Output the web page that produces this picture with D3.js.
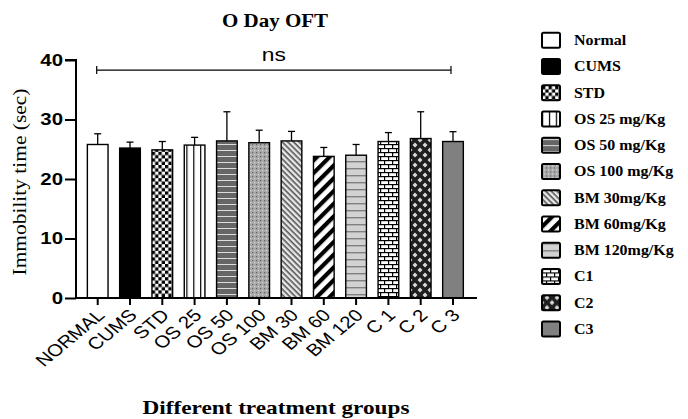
<!DOCTYPE html>
<html>
<head>
<meta charset="utf-8">
<script src="https://cdn.jsdelivr.net/npm/d3@7"></script>
<style>
  body { margin: 0; background: #fff; }
  svg { display: block; }
</style>
</head>
<body>
<svg id="chart" width="688" height="419"></svg>
<script>
// data
const groups = ["NORMAL", "CUMS", "STD", "OS 25", "OS 50", "OS 100", "BM 30", "BM 60", "BM 120", "C 1", "C 2", "C 3"];
const means  = [25.8, 25.2, 24.9, 25.7, 26.4, 26.1, 26.4, 23.8, 24.0, 26.3, 26.8, 26.3];
const errs   = [1.8, 1.0, 1.4, 1.3, 4.9, 2.1, 1.6, 1.5, 1.8, 1.5, 4.5, 1.65];
const legendLabels = ["Normal", "CUMS", "STD", "OS 25 mg/Kg", "OS 50 mg/Kg", "OS 100 mg/Kg",
                      "BM 30mg/Kg", "BM 60mg/Kg", "BM 120mg/Kg", "C1", "C2", "C3"];
const yTicks = [0, 10, 20, 30, 40];
const nsLevel = 38.3;

const svg = d3.select("#chart");
const defs = svg.append("defs");

// ---- fill patterns, one per group ----
function pat(id, w, h, bg) {
  const p = defs.append("pattern").attr("id", id)
    .attr("patternUnits", "userSpaceOnUse").attr("width", w).attr("height", h);
  p.append("rect").attr("width", w).attr("height", h).attr("fill", bg);
  return p;
}
// STD checkerboard
let p = pat("p2", 6.6, 6.6, "#fff");
p.append("rect").attr("width", 3.3).attr("height", 3.3).attr("fill", "#000");
p.append("rect").attr("x", 3.3).attr("y", 3.3).attr("width", 3.3).attr("height", 3.3).attr("fill", "#000");
// OS 25 vertical lines
p = pat("p3", 6.9, 10, "#fff");
p.append("rect").attr("x", 0).attr("width", 1.2).attr("height", 10).attr("fill", "#000");
// OS 50 dark with light horizontal lines
p = pat("p4", 10, 6, "#666");
p.append("rect").attr("y", 0).attr("width", 10).attr("height", 1).attr("fill", "#ddd");
// OS 100 speckled gray
p = pat("p5", 4, 4, "#a8a8a8");
p.append("rect").attr("x", 0).attr("y", 0).attr("width", 1.2).attr("height", 1.2).attr("fill", "#666");
p.append("rect").attr("x", 2).attr("y", 2).attr("width", 1.2).attr("height", 1.2).attr("fill", "#d8d8d8");
// BM 30 fine back-diagonal lines (\)
p = pat("p6", 4, 4, "#e8e8e8").attr("patternTransform", "rotate(45)");
p.append("rect").attr("width", 4).attr("height", 1.6).attr("fill", "#555");
// BM 60 thick diagonal stripes (/)
p = pat("p7", 9, 9, "#fff").attr("patternTransform", "rotate(-45)");
p.append("rect").attr("width", 9).attr("height", 4.2).attr("fill", "#000");
// BM 120 light gray with gray horizontal lines
p = pat("p8", 10, 7, "#d2d2d2");
p.append("rect").attr("width", 10).attr("height", 1.4).attr("fill", "#808080");
// C1 bricks
p = pat("p9", 8, 8, "#fff");
p.append("rect").attr("width", 8).attr("height", 1.2).attr("fill", "#000");
p.append("rect").attr("y", 4).attr("width", 8).attr("height", 1.2).attr("fill", "#000");
p.append("rect").attr("x", 0).attr("y", 0).attr("width", 1.2).attr("height", 4).attr("fill", "#000");
p.append("rect").attr("x", 4).attr("y", 4).attr("width", 1.2).attr("height", 4).attr("fill", "#000");
// C2 dark with light diamonds
p = pat("p10", 10, 10, "#1e1e1e");
p.append("path").attr("d", "M0,-2.5L2.5,0L0,2.5L-2.5,0Z M10,-2.5L12.5,0L10,2.5L7.5,0Z M0,7.5L2.5,10L0,12.5L-2.5,10Z M10,7.5L12.5,10L10,12.5L7.5,10Z M5,2.5L7.5,5L5,7.5L2.5,5Z").attr("fill", "#d8d8d8");

const fills = ["#fff", "#000", "url(#p2)", "url(#p3)", "url(#p4)", "url(#p5)",
               "url(#p6)", "url(#p7)", "url(#p8)", "url(#p9)", "url(#p10)", "#808080"];

// ---- scales ----
const x = d3.scaleBand().domain(groups).range([81.55, 469.15]).paddingInner(0.36).paddingOuter(0.18);
const y = d3.scaleLinear().domain([0, 40]).range([298, 60]);

const g = svg.append("g");

// error bars (upper only)
const eb = g.selectAll(".err").data(groups).join("g").attr("class", "err")
  .attr("stroke", "#000").attr("stroke-width", 1.3);
eb.append("line")
  .attr("x1", d => x(d) + x.bandwidth() / 2).attr("x2", d => x(d) + x.bandwidth() / 2)
  .attr("y1", (d, i) => y(means[i])).attr("y2", (d, i) => y(means[i] + errs[i]));
eb.append("line")
  .attr("x1", d => x(d) + x.bandwidth() / 2 - 3.5).attr("x2", d => x(d) + x.bandwidth() / 2 + 3.5)
  .attr("y1", (d, i) => y(means[i] + errs[i])).attr("y2", (d, i) => y(means[i] + errs[i]));

// bars
g.selectAll(".bar").data(groups).join("rect").attr("class", "bar")
  .attr("x", d => x(d)).attr("width", x.bandwidth())
  .attr("y", (d, i) => y(means[i])).attr("height", (d, i) => y(0) - y(means[i]))
  .attr("fill", (d, i) => fills[i]).attr("stroke", "#000").attr("stroke-width", 1.4);

// y axis
const yAxis = svg.append("g").attr("transform", "translate(76,0)")
  .call(d3.axisLeft(y).tickValues(yTicks).tickSize(11).tickPadding(2));
yAxis.select(".domain").attr("stroke-width", 2).attr("d", "M-11,60H0V298");
yAxis.selectAll(".tick line").attr("stroke-width", 2);
yAxis.selectAll("text").attr("font-family", "Liberation Sans, Arial, sans-serif")
  .attr("font-size", 17).attr("font-weight", "bold").attr("fill", "#000")
  .attr("x", 0).attr("transform", "translate(-13,0) scale(1.2,1)");

// x axis (labels rotated, slightly stretched like the source image)
const xAxis = svg.append("g").attr("transform", "translate(0,298)")
  .call(d3.axisBottom(x).tickSize(7).tickPadding(2));
xAxis.select(".domain").attr("stroke-width", 2).attr("d", "M75,0H477");
xAxis.selectAll(".tick line").attr("stroke-width", 2);
xAxis.selectAll("text")
  .attr("font-family", "Liberation Sans, Arial, sans-serif").attr("font-size", 17)
  .attr("fill", "#000").attr("text-anchor", "end")
  .attr("x", 0).attr("y", 0).attr("dy", "0.35em")
  .attr("transform", "translate(3,14) scale(1.2,1) rotate(-45)");

// ns bracket
const x0 = x(groups[0]) + x.bandwidth() / 2 - 1, x1 = x(groups[groups.length - 1]) + x.bandwidth() / 2 - 2;
const br = svg.append("g").attr("stroke", "#000").attr("stroke-width", 1.2);
br.append("line").attr("x1", x0).attr("x2", x1).attr("y1", y(nsLevel)).attr("y2", y(nsLevel));
br.append("line").attr("x1", x0).attr("x2", x0).attr("y1", y(nsLevel) - 4).attr("y2", y(nsLevel) + 4);
br.append("line").attr("x1", x1).attr("x2", x1).attr("y1", y(nsLevel) - 4).attr("y2", y(nsLevel) + 4);
svg.append("text").attr("transform", `translate(${(x0 + x1) / 2},${y(nsLevel) - 9}) scale(1.2,1)`)
  .attr("text-anchor", "middle").attr("font-family", "Liberation Sans, Arial, sans-serif")
  .attr("font-size", 19).text("ns");

// titles
const serif = "Liberation Serif, Times New Roman, serif";
svg.append("text").attr("x", 275).attr("y", 27).attr("text-anchor", "middle")
  .attr("font-family", serif).attr("font-weight", "bold").attr("font-size", 18)
  .attr("textLength", 106).attr("lengthAdjust", "spacingAndGlyphs").text("O Day OFT");
svg.append("text").attr("transform", "translate(26,182) rotate(-90)").attr("text-anchor", "middle")
  .attr("font-family", serif).attr("font-size", 18)
  .attr("textLength", 187).attr("lengthAdjust", "spacingAndGlyphs").text("Immobility time (sec)");
svg.append("text").attr("x", 276).attr("y", 414).attr("text-anchor", "middle")
  .attr("font-family", serif).attr("font-weight", "bold").attr("font-size", 19)
  .attr("textLength", 267).attr("lengthAdjust", "spacingAndGlyphs").text("Different treatment groups");

// legend
const ly = d3.scaleBand().domain(legendLabels).range([27, 342]);
const leg = svg.selectAll(".leg").data(legendLabels).join("g").attr("class", "leg")
  .attr("transform", d => `translate(542,${ly(d) + ly.bandwidth() / 2})`);
leg.append("rect").attr("x", 0).attr("y", -7.5).attr("width", 18).attr("height", 15)
  .attr("rx", 1.5).attr("fill", (d, i) => fills[i]).attr("stroke", "#000").attr("stroke-width", 2);
leg.append("text").attr("transform", "translate(32,0) scale(1.14,1)").attr("dy", "0.35em")
  .attr("font-family", serif).attr("font-weight", "bold").attr("font-size", 14)
  .attr("fill", "#000").text(d => d);
</script>
</body>
</html>
